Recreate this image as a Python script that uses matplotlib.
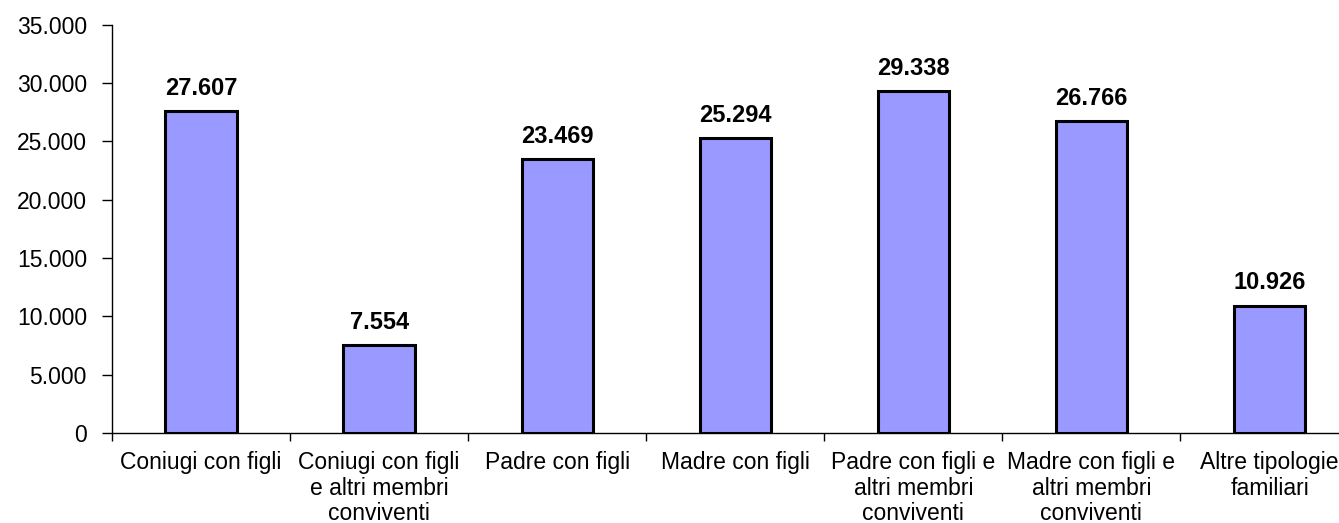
import matplotlib.pyplot as plt
import numpy as np

plt.rcParams['font.family'] = ['Liberation Sans', 'DejaVu Sans']

# Data
categories = ['Coniugi con figli', 'Coniugi con figli\ne altri membri\nconviventi',
              'Padre con figli', 'Madre con figli',
              'Padre con figli e\naltri membri\nconviventi',
              'Madre con figli e\naltri membri\nconviventi',
              'Altre tipologie\nfamiliari']
values = [27607, 7554, 23469, 25294, 29338, 26766, 10926]
yticks = [0, 5000, 10000, 15000, 20000, 25000, 30000, 35000]


def fmt(v):
    return f'{v:,}'.replace(',', '.')


fig = plt.figure(figsize=(13.39, 5.23), dpi=100)
ax = fig.add_axes([0.0836, 0.172, 0.931, 0.781])

x = np.arange(len(values))
ax.bar(x, values, width=0.4, color='#9999FF', edgecolor='black', linewidth=2.2)

for xi, v in zip(x, values):
    ax.annotate(fmt(v), (xi, v), xytext=(0, 8), textcoords='offset points',
                ha='center', va='bottom', fontsize=17, fontweight='bold')

ax.set_xlim(-0.5, len(values) - 0.5)
ax.set_ylim(0, 35000)
ax.set_yticks(yticks)
ax.set_yticklabels([fmt(t) for t in yticks])

# category labels centred, tick marks at the boundaries
ax.set_xticks(x)
ax.set_xticklabels(categories, linespacing=1.15)
ax.tick_params(axis='x', length=0, pad=13, labelsize=16.5)
ax.set_xticks(np.arange(len(values)) - 0.5, minor=True)
ax.tick_params(axis='x', which='minor', length=6, width=1, direction='out')
ax.tick_params(axis='y', length=7, width=1, labelsize=16.5, pad=11)

for side in ['top', 'right']:
    ax.spines[side].set_visible(False)
for side in ['left', 'bottom']:
    ax.spines[side].set_linewidth(1)

fig.savefig('out.png', dpi=100)
